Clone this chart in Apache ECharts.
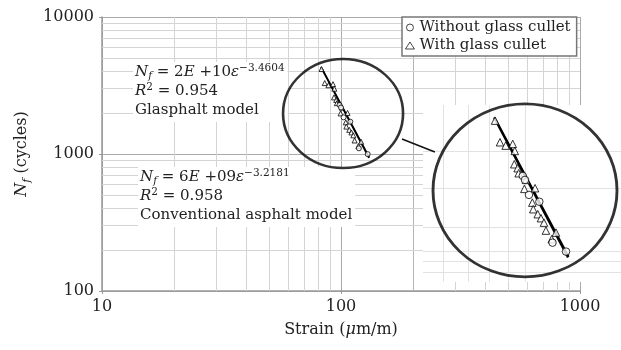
<!DOCTYPE html>
<html>
<head>
<meta charset="utf-8">
<script src="https://cdn.jsdelivr.net/npm/echarts@6/dist/echarts.min.js"></script>
<style>
  html, body { margin: 0; padding: 0; background: #fff; }
  #chart { width: 621px; height: 350px; }
</style>
</head>
<body>
<div id="chart"></div>
<script>
// strain (µm/m), Nf (cycles)
const withGlass = [
  [82.9, 4169], [85.5, 3293], [88.6, 3174], [92.6, 3232], [93.8, 2995],
  [93.5, 2590], [95.5, 2480], [96.1, 2348], [99.6, 1979], [100.6, 2183],
  [106.5, 1994], [104.7, 1703], [105.3, 1585], [108.3, 1501], [110.5, 1437],
  [112.6, 1369], [114.0, 1255], [121.4, 1228], [118.2, 1143]
]
const withoutGlass = [
  [98.6, 2280], [100.0, 2183], [102.5, 1853], [109.4, 1720], [118.8, 1100], [129.3, 998]
]
// fitted lines as drawn
const glassFit = [[82.4, 4315], [130.9, 935]]
const conventionalFit = [[83.5, 4180], [131.5, 945]]

const xTicks = [10, 100, 1000]
const yTicks = [100, 1000, 10000]
const xMinor = [20, 30, 40, 50, 60, 70, 80, 90, 200, 300, 400, 500, 600, 700, 800, 900]
const yMinor = [200, 300, 400, 500, 600, 700, 800, 900, 2000, 3000, 4000, 5000, 6000, 7000, 8000, 9000]
const insetXLines = [60, 70, 80, 90, 100]
const insetYLines = [800, 900, 1000, 1300, 2000, 3000]

// highlight ring (centre in data units) and the arrow to the zoom
const ringCenter = [102, 1975]
const insetRingCenter = [100, 1946]
const arrow = [[180, 1287], [247, 1034]]

const serif = 'DejaVu Serif'
const ink = '#222'

const chart = echarts.init(document.getElementById('chart'))

const rich = {
  t: { fontFamily: serif, fontSize: 15, fill: ink, lineHeight: 19 },
  i: { fontFamily: serif, fontSize: 15, fontStyle: 'italic', fill: ink, lineHeight: 19 },
  sub: { fontFamily: serif, fontSize: 10.5, fontStyle: 'italic', fill: ink, lineHeight: 8, verticalAlign: 'bottom' },
  sup: { fontFamily: serif, fontSize: 10.5, fill: ink, lineHeight: 8, verticalAlign: 'top' }
}

function gridLines(xs, ys, color) {
  return xs.map(v => ({ xAxis: v, lineStyle: { color: v === 200 ? '#b4b4b4' : color } }))
    .concat(ys.map(v => ({ yAxis: v })))
}

chart.setOption({
  animation: false,
  grid: [
    { left: 102, top: 17, width: 478, height: 274 },
    { left: 423, top: 105, width: 198, height: 177, show: true, backgroundColor: '#fff', borderWidth: 0, zlevel: 1 }
  ],
  legend: {
    left: 402, top: 17,
    orient: 'vertical',
    data: ['Without glass cullet', 'With glass cullet'],
    itemWidth: 9, itemHeight: 7, itemGap: 3,
    padding: [3, 6, 3, 3],
    borderColor: '#777', borderWidth: 1.5, borderRadius: 0,
    backgroundColor: '#fff',
    itemStyle: { borderWidth: 0.9 },
    textStyle: { fontFamily: serif, fontSize: 15, color: ink }
  },
  xAxis: [
    {
      type: 'log', logBase: 10, min: 10, max: 1000, gridIndex: 0,
      name: 'Strain ({i|μ}m/m)', nameLocation: 'middle', nameGap: 29,
      nameTextStyle: {
        fontFamily: serif, fontSize: 16, color: ink, lineHeight: 20,
        rich: { i: { fontFamily: serif, fontSize: 16, fontStyle: 'italic', color: ink, lineHeight: 20 } }
      },
      axisLine: { lineStyle: { color: '#999', width: 1.5 } },
      axisTick: { lineStyle: { color: '#999' }, length: 3 },
      axisLabel: { fontFamily: serif, fontSize: 16, color: ink, margin: 8, formatter: v => String(Math.round(v)) },
      splitLine: { show: true, lineStyle: { color: '#aaa', width: 1 } }
    },
    { type: 'log', logBase: 10, min: 52.8, max: 182.4, gridIndex: 1, show: false, zlevel: 1 }
  ],
  yAxis: [
    {
      type: 'log', logBase: 10, min: 100, max: 10000, gridIndex: 0,
      name: '{i|N}{s|f} (cycles)', nameLocation: 'middle', nameGap: 65, nameRotate: 90,
      nameTextStyle: {
        fontFamily: serif, fontSize: 16, color: ink, lineHeight: 20,
        rich: {
          i: { fontFamily: serif, fontSize: 16, fontStyle: 'italic', color: ink, lineHeight: 20 },
          s: { fontFamily: serif, fontSize: 11, fontStyle: 'italic', color: ink, lineHeight: 8, verticalAlign: 'bottom' }
        }
      },
      axisLine: { show: true, lineStyle: { color: '#999', width: 1.5 } },
      axisTick: { show: true, lineStyle: { color: '#999' }, length: 3 },
      axisLabel: { fontFamily: serif, fontSize: 16, color: ink, margin: 8, formatter: v => String(Math.round(v)) },
      splitLine: { show: true, lineStyle: { color: '#aaa', width: 1 } }
    },
    { type: 'log', logBase: 10, min: 716, max: 4945, gridIndex: 1, show: false, zlevel: 1 }
  ],
  graphic: [
    {
      type: 'text', x: 133, y: 62, z: 10,
      style: {
        text: '{i|N}{sub|f}{t| = 2}{i|E}{t| +10}{i|ε}{sup|−3.4604}\n{i|R}{sup|2}{t| = 0.954}\n{t|Glasphalt model}',
        rich, backgroundColor: '#fff', padding: [1, 3, 2, 2]
      }
    },
    {
      type: 'text', x: 138, y: 167, z: 10,
      style: {
        text: '{i|N}{sub|f}{t| = 6}{i|E}{t| +09}{i|ε}{sup|−3.2181}\n{i|R}{sup|2}{t| = 0.958}\n{t|Conventional asphalt model}',
        rich, backgroundColor: '#fff', padding: [1, 3, 2, 2]
      }
    }
  ],
  series: [
    // main view
    {
      type: 'line', xAxisIndex: 0, yAxisIndex: 0, data: glassFit, z: 2,
      showSymbol: false, lineStyle: { color: '#000', width: 1.6 },
      markLine: {
        silent: true, symbol: 'none', z: 1, label: { show: false },
        lineStyle: { color: '#d4d4d4', width: 1, type: 'solid' },
        data: gridLines(xMinor, yMinor, '#d4d4d4')
      }
    },
    {
      type: 'line', xAxisIndex: 0, yAxisIndex: 0, data: conventionalFit, z: 2,
      showSymbol: false, lineStyle: { color: '#000', width: 1.3 }
    },
    {
      name: 'With glass cullet', type: 'scatter', xAxisIndex: 0, yAxisIndex: 0, data: withGlass, z: 3,
      symbol: 'triangle', symbolSize: 5,
      itemStyle: { color: '#fff', borderColor: '#000', borderWidth: 1 }
    },
    {
      name: 'Without glass cullet', type: 'scatter', xAxisIndex: 0, yAxisIndex: 0, data: withoutGlass, z: 3,
      symbol: 'circle', symbolSize: 5,
      itemStyle: { color: '#fff', borderColor: '#000', borderWidth: 1 }
    },
    {
      type: 'scatter', xAxisIndex: 0, yAxisIndex: 0, data: [ringCenter], z: 20, silent: true,
      symbol: 'circle', symbolSize: [120, 109],
      itemStyle: { color: 'rgba(0,0,0,0)', borderColor: '#000', borderWidth: 2.5 }
    },
    {
      type: 'line', xAxisIndex: 0, yAxisIndex: 0, data: [], zlevel: 1,
      markLine: {
        silent: true, zlevel: 1, z: 5, symbol: ['none', 'arrow'], symbolSize: [0, 9],
        label: { show: false },
        lineStyle: { color: '#111', width: 1.5, type: 'solid' },
        data: [[{ coord: arrow[0] }, { coord: arrow[1] }]]
      }
    },
    // zoomed view
    {
      type: 'line', xAxisIndex: 1, yAxisIndex: 1, data: glassFit, zlevel: 1, z: 2,
      showSymbol: false, lineStyle: { color: '#000', width: 2.2 },
      markLine: {
        silent: true, symbol: 'none', zlevel: 1, z: 1, label: { show: false },
        lineStyle: { color: '#e2e2e2', width: 1, type: 'solid' },
        data: insetXLines.map(v => ({ xAxis: v })).concat(insetYLines.map(v => ({ yAxis: v })))
      }
    },
    {
      type: 'line', xAxisIndex: 1, yAxisIndex: 1, data: conventionalFit, zlevel: 1, z: 2,
      showSymbol: false, lineStyle: { color: '#000', width: 1.8 }
    },
    {
      name: 'With glass cullet', type: 'scatter', xAxisIndex: 1, yAxisIndex: 1, data: withGlass, zlevel: 1, z: 3,
      symbol: 'triangle', symbolSize: 7.5,
      itemStyle: { color: '#fff', borderColor: '#000', borderWidth: 1 }
    },
    {
      name: 'Without glass cullet', type: 'scatter', xAxisIndex: 1, yAxisIndex: 1, data: withoutGlass, zlevel: 1, z: 3,
      symbol: 'circle', symbolSize: 7.5,
      itemStyle: { color: '#fff', borderColor: '#000', borderWidth: 1 }
    },
    {
      type: 'scatter', xAxisIndex: 1, yAxisIndex: 1, data: [insetRingCenter], zlevel: 1, z: 4, silent: true,
      symbol: 'circle', symbolSize: [184, 173],
      itemStyle: { color: 'rgba(0,0,0,0)', borderColor: '#000', borderWidth: 2.8 }
    }
  ]
})
</script>
</body>
</html>
